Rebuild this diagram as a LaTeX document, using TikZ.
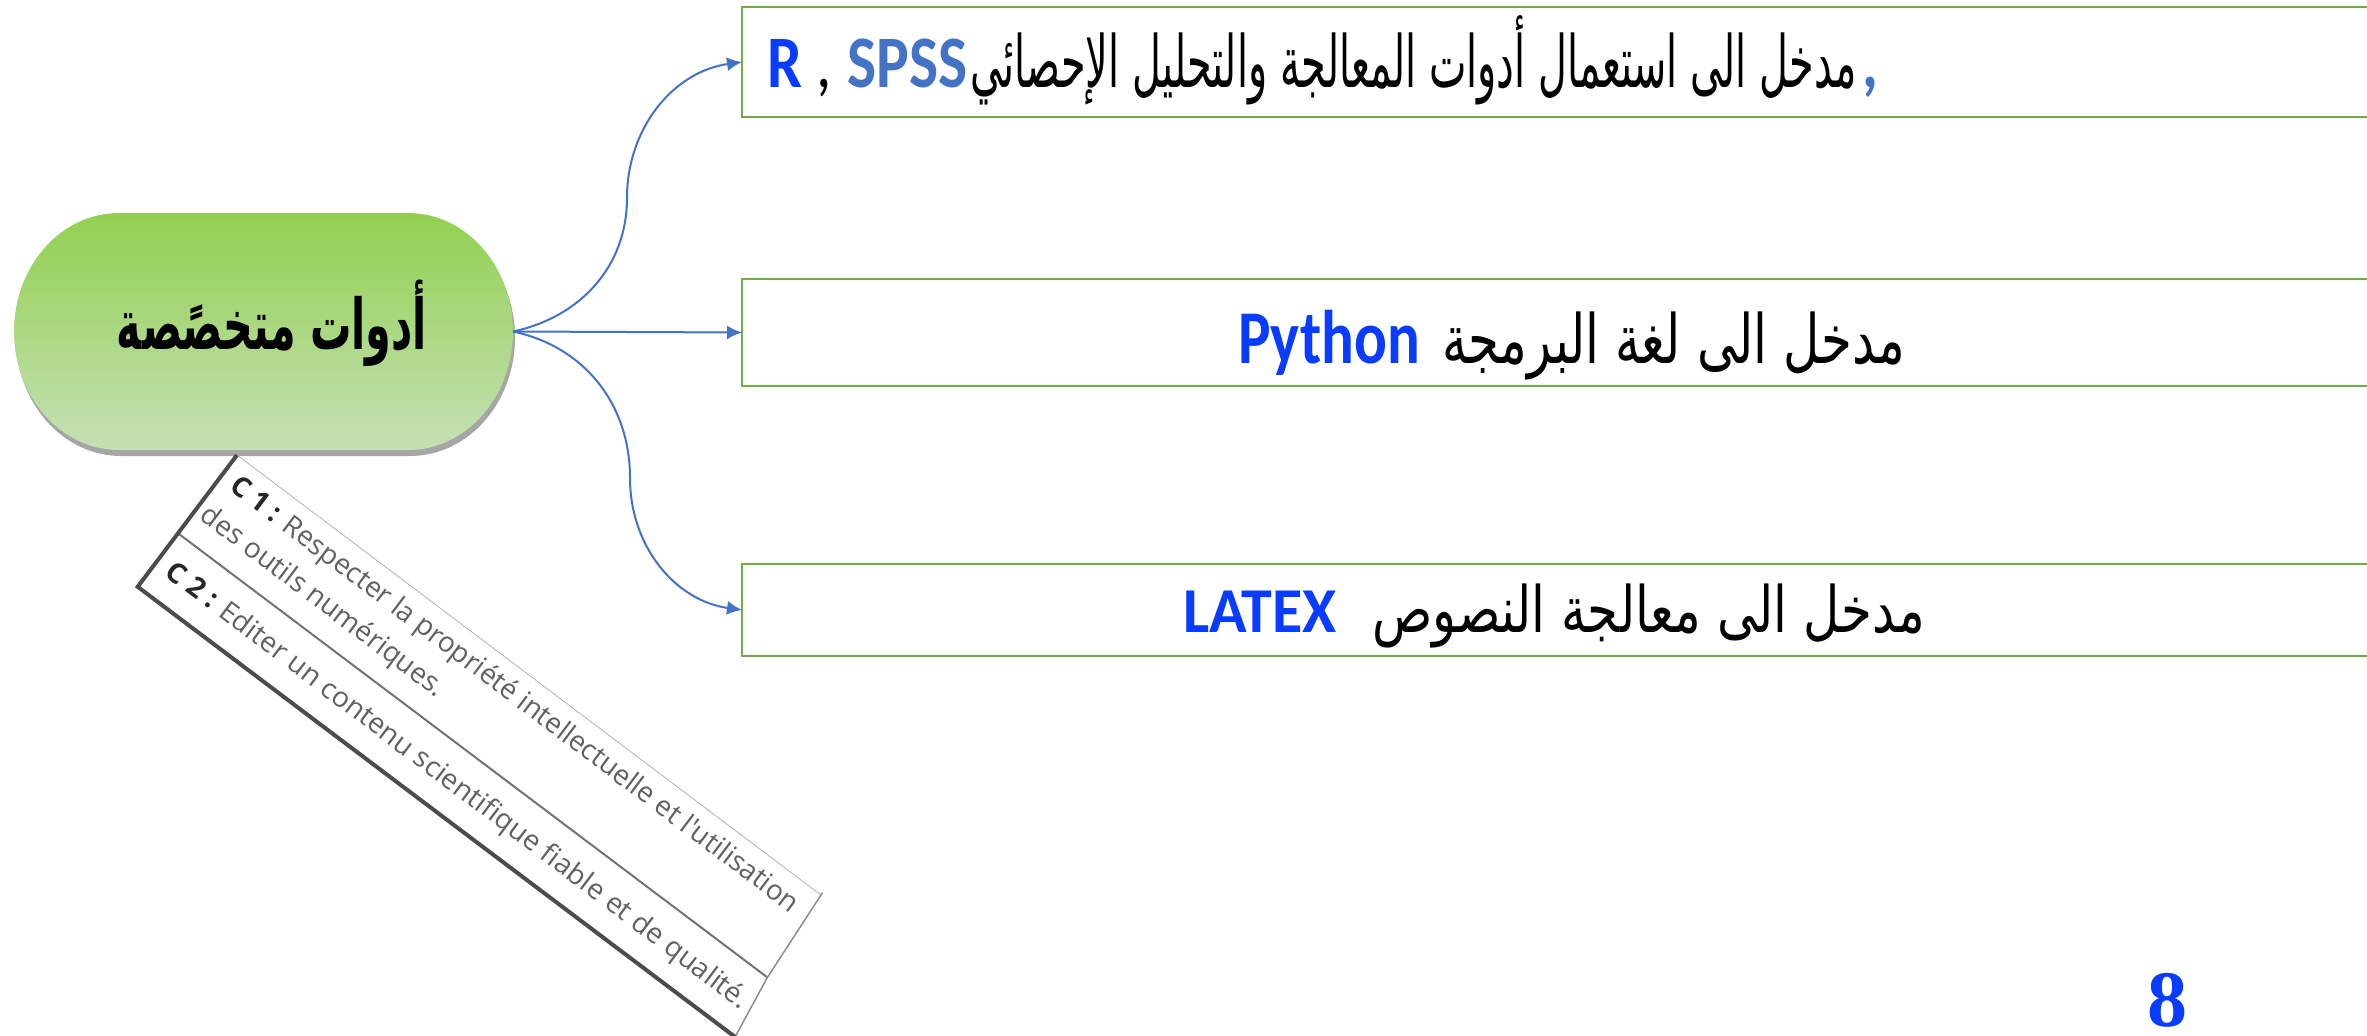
\documentclass[tikz,border=0pt]{standalone}
\usepackage{fontspec}
\usepackage{graphicx}
\setmainfont{Liberation Serif}
\newfontfamily\arabicfont[Script=Arabic]{DejaVu Sans}
\newfontfamily\latfont{Carlito}
\newfontfamily\tabfont{Open Sans}
\TeXXeTstate=1
\usetikzlibrary{arrows.meta,shadows}
\definecolor{gborder}{HTML}{70AD47}
\definecolor{cblue}{HTML}{4472C4}
\definecolor{rblue}{HTML}{0A3CFF}
\definecolor{gtop}{HTML}{92D050}
\definecolor{gbot}{HTML}{C5E0B4}
\newcommand\squeezeto[2]{\resizebox{#1}{\height}{#2}}
\begin{document}
\begin{tikzpicture}[x=1pt,y=-1pt,
  box/.style={draw=gborder, line width=2.5pt, fill=white, inner sep=0pt, outer sep=0pt, minimum width=1700pt, anchor=west},
  conn/.style={draw=cblue, line width=2pt, -{Latex[length=15pt,width=14pt]}},
  txt/.style={inner sep=0pt, outer sep=0pt, anchor=base west},
  tabtxt/.style={font=\tabfont\fontsize{28}{32}\selectfont, text=black!62, inner sep=0pt, outer sep=0pt, anchor=base west}]
\useasboundingbox (0,0) rectangle (2367,1036);
\clip (0,0) rectangle (2367,1036);

% central rounded shape
\path[top color=gtop, bottom color=gbot,
      drop shadow={shadow xshift=2pt, shadow yshift=-6pt, opacity=0.35, fill=black}]
  (119,213) -- (408,213) .. controls (466,213) and (513,266) .. (513,331.5)
  .. controls (513,397) and (466,450) .. (408,450) -- (119,450)
  .. controls (61,450) and (14,397) .. (14,331.5)
  .. controls (14,266) and (61,213) .. (119,213) -- cycle;
\node[minimum width=499pt, minimum height=237pt, inner sep=0pt, outer sep=0pt] (n0) at (263.5,331.5) {};
\node[inner sep=0pt, anchor=base] (n0t) at (272,349)
  {\squeezeto{310pt}{\arabicfont\bfseries\fontsize{70}{76}\selectfont\beginR أدوات متخصًصة\endR}};

% boxes
\node[box, minimum height=110pt] (b1) at (742,62) {};
\node[box, minimum height=107pt] (b2) at (742,332.5) {};
\node[box, minimum height=92pt] (b3) at (742,610) {};

% box texts (pieces set left to right as seen)
\node[txt] (t1) at (767,87) {%
  \squeezeto{35pt}{\latfont\bfseries\fontsize{74}{80}\selectfont\color{rblue}R}%
  \hspace{14pt}\scalebox{0.83}[1]{\latfont\fontsize{74}{80}\selectfont,}\hspace{16pt}%
  \squeezeto{120pt}{\latfont\bfseries\fontsize{74}{80}\selectfont\color{cblue}SPSS}%
  \hspace{3pt}\squeezeto{886pt}{\arabicfont\fontsize{72}{78}\selectfont\beginR مدخل الى استعمال أدوات المعالجة والتحليل الإحصائي\endR}%
  \hspace{6pt}\scalebox{0.83}[1]{\latfont\bfseries\fontsize{74}{80}\selectfont\color{cblue},}};
\node[txt] (t2) at (1238,363) {%
  \squeezeto{182pt}{\latfont\bfseries\fontsize{76}{80}\selectfont\color{rblue}Python}%
  \hspace{22pt}\squeezeto{463pt}{\arabicfont\fontsize{68}{74}\selectfont\beginR مدخل الى لغة البرمجة\endR}};
\node[txt] (t3) at (1183,632) {%
  \squeezeto{154pt}{\latfont\bfseries\fontsize{64}{70}\selectfont\color{rblue}LATEX}%
  \hspace{35pt}\squeezeto{553pt}{\arabicfont\fontsize{64}{70}\selectfont\beginR مدخل الى معالجة النصوص\endR}};

% connectors
\coordinate (k1) at (627,198);
\coordinate (k3) at (630,478);
\draw[conn] (n0.east) to[out=12,in=-90] (k1) to[out=90,in=188] (b1.west);
\draw[conn] (n0.east) -- (b2.west);
\draw[conn] (n0.east) to[out=-12,in=90] (k3) to[out=-90,in=172] (b3.west);

% rotated table
\begin{scope}[shift={(237,455)}, rotate=-37, transform shape]
  \fill[white] (0,0) -- (732,0) -- (738,98) -- (748,165) -- (0,165) -- cycle;
  \draw[black!30, line width=0.8pt] (0,0) -- (732,0);
  \draw[black!55, line width=2pt] (0,98) -- (738,98);
  \draw[black!45, line width=1.5pt] (731,-3) -- (738,98) -- (749,172);
  \draw[black!70, line width=4pt] (0,0) -- (0,165) -- (748,165);
  \node[tabtxt] (c1a) at (14,33) {\squeezeto{704pt}{\textbf{\color{black!85}C 1 :} Respecter la propriété intellectuelle et l'utilisation}};
  \node[tabtxt] (c1b) at (8,74) {des outils numériques.};
  \node[tabtxt] (c2a) at (14,140) {\squeezeto{722pt}{\textbf{\color{black!85}C 2 :} Editer un contenu scientifique fiable et de qualité.}};
\end{scope}

% page number
\node[font=\bfseries\fontsize{80}{80}\selectfont, text=rblue, inner sep=0pt] (pg) at (2167,1000) {8};
\end{tikzpicture}
\end{document}
